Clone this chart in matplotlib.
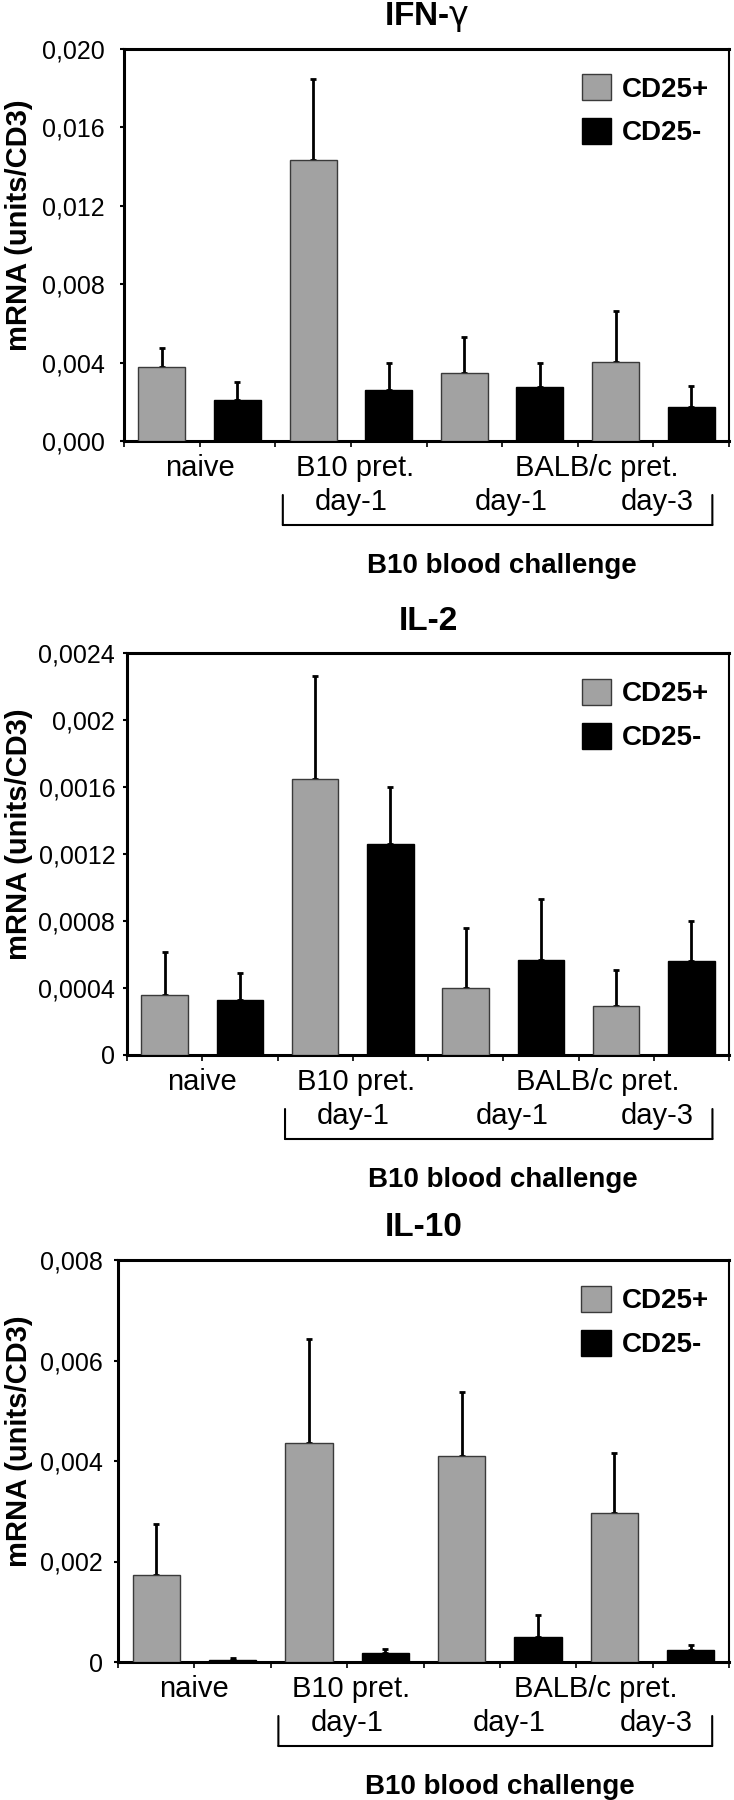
import numpy as np
import matplotlib.pyplot as plt
import matplotlib.transforms as mtransforms

plt.rcParams['font.family'] = ['Liberation Sans', 'DejaVu Sans']

# dati (media e barra d'errore superiore)
series_labels = ['CD25+', 'CD25-']

ifn_pos = [0.00377, 0.01432, 0.00348, 0.00404]
ifn_pos_err = [0.00099, 0.00414, 0.00181, 0.00261]
ifn_neg = [0.00208, 0.00260, 0.00274, 0.00171]
ifn_neg_err = [0.00093, 0.00136, 0.00122, 0.00111]

il2_pos = [0.000361, 0.00165, 0.000402, 0.00029]
il2_pos_err = [0.000254, 0.000613, 0.000359, 0.00022]
il2_neg = [0.000327, 0.001257, 0.000567, 0.000562]
il2_neg_err = [0.00016, 0.000343, 0.000363, 0.000236]

il10_pos = [0.001726, 0.00435, 0.0041, 0.00297]
il10_pos_err = [0.001017, 0.00207, 0.00127, 0.00118]
il10_neg = [0.000047, 0.000189, 0.000497, 0.000236]
il10_neg_err = [0.000032, 0.000071, 0.000441, 0.000095]

ifn_ticks = [0, 0.004, 0.008, 0.012, 0.016, 0.020]
ifn_ticklabels = ['0,000', '0,004', '0,008', '0,012', '0,016', '0,020']
il2_ticks = [0, 0.0004, 0.0008, 0.0012, 0.0016, 0.002, 0.0024]
il2_ticklabels = ['0', '0,0004', '0,0008', '0,0012', '0,0016', '0,002', '0,0024']
il10_ticks = [0, 0.002, 0.004, 0.006, 0.008]
il10_ticklabels = ['0', '0,002', '0,004', '0,006', '0,008']

panels = [
    ('IFN-$\\mathrm{\\gamma}$', ifn_pos, ifn_pos_err, ifn_neg, ifn_neg_err, ifn_ticks, ifn_ticklabels,
     [124 / 734, 1 - 441 / 1800, 605 / 734, 392 / 1800], 11),
    ('IL-2', il2_pos, il2_pos_err, il2_neg, il2_neg_err, il2_ticks, il2_ticklabels,
     [127 / 734, 1 - 1055 / 1800, 602 / 734, 402 / 1800], 5.5),
    ('IL-10', il10_pos, il10_pos_err, il10_neg, il10_neg_err, il10_ticks, il10_ticklabels,
     [118 / 734, 1 - 1662 / 1800, 611 / 734, 402 / 1800], 8),
]

tick_font = ['Liberation Sans Narrow', 'Liberation Sans', 'DejaVu Sans']

fig = plt.figure(figsize=(7.34, 18.0), dpi=100)

for title, pos, pos_err, neg, neg_err, ticks, ticklabels, rect, ypad in panels:
    ax = fig.add_axes(rect)
    x = np.arange(len(pos)) * 2
    ax.bar(x, pos, width=0.62, color='#a2a2a2', edgecolor='#3a3a3a', linewidth=1,
           label=series_labels[0], zorder=3)
    ax.bar(x + 1, neg, width=0.62, color='black', edgecolor='black', linewidth=1,
           label=series_labels[1], zorder=3)
    ax.errorbar(x, pos, yerr=[np.zeros(len(pos)), pos_err], fmt='none', ecolor='black',
                elinewidth=2, capsize=2.5, capthick=2, zorder=2)
    ax.errorbar(x + 1, neg, yerr=[np.zeros(len(neg)), neg_err], fmt='none', ecolor='black',
                elinewidth=2, capsize=2.5, capthick=2, zorder=2)

    ax.set_xlim(-0.5, 7.5)
    ax.set_ylim(0, ticks[-1])
    ax.set_xticks(np.arange(-0.5, 8, 1))
    ax.set_xticklabels([])
    ax.tick_params(axis='x', direction='out', length=4, width=1.2)
    ax.set_yticks(ticks)
    ax.set_yticklabels(ticklabels, fontsize=18, family=tick_font)
    ax.tick_params(axis='y', direction='out', length=3, width=1.5, pad=ypad)
    for s in ['top', 'left', 'bottom']:
        ax.spines[s].set_linewidth(2.2)
    ax.spines['right'].set_linewidth(1.5)

    # titolo
    ax.text(0.5, 1, title, transform=mtransforms.offset_copy(ax.transAxes, fig=fig, y=32, units='dots'),
            ha='center', va='center', fontsize=24, fontweight='bold')

    # leggenda
    ax.legend(loc='upper right', bbox_to_anchor=(1 - 20 / 605, 1 - 26 / 400), frameon=False,
              prop={'size': 20, 'weight': 'bold'}, handlelength=1.05, handleheight=1.05,
              labelspacing=0.55, handletextpad=0.4, borderpad=0, borderaxespad=0)

    # etichette delle categorie
    tr = ax.get_xaxis_transform()
    row1 = mtransforms.offset_copy(tr, fig=fig, y=-27, units='dots')
    row2 = mtransforms.offset_copy(tr, fig=fig, y=-61, units='dots')
    ax.text(0.5, 0, 'naive', transform=row1, ha='center', va='center', fontsize=21)
    ax.text(2.55, 0, 'B10 pret.', transform=row1, ha='center', va='center', fontsize=21)
    ax.text(5.75, 0, 'BALB/c pret.', transform=row1, ha='center', va='center', fontsize=21)
    ax.text(2.5, 0, 'day-1', transform=row2, ha='center', va='center', fontsize=21)
    ax.text(4.62, 0, 'day-1', transform=row2, ha='center', va='center', fontsize=21)
    ax.text(6.55, 0, 'day-3', transform=row2, ha='center', va='center', fontsize=21)

    # parentesi
    top_tr = mtransforms.offset_copy(tr, fig=fig, y=-54, units='dots')
    bot_tr = mtransforms.offset_copy(tr, fig=fig, y=-84, units='dots')
    bracket = dict(arrowstyle='-', lw=1.5, color='black', shrinkA=0, shrinkB=0)
    ax.annotate('', xy=(1.6, 0), xycoords=top_tr, xytext=(1.6, 0), textcoords=bot_tr,
                arrowprops=bracket)
    ax.annotate('', xy=(7.28, 0), xycoords=top_tr, xytext=(7.28, 0), textcoords=bot_tr,
                arrowprops=bracket)
    ax.annotate('', xy=(7.28, 0), xycoords=bot_tr, xytext=(1.6, 0), textcoords=bot_tr,
                arrowprops=bracket)

    ch = mtransforms.offset_copy(tr, fig=fig, y=-125, units='dots')
    ax.text(4.5, 0, 'B10 blood challenge', transform=ch, ha='center', va='center',
            fontsize=20, fontweight='bold')

    # asse y
    ycen = rect[1] + rect[3] / 2 + 20 / 1800
    fig.text(19 / 734, ycen, 'mRNA (units/CD3)', rotation=90, ha='center', va='center',
             fontsize=21, fontweight='bold')

plt.savefig('out.png', dpi=100)
